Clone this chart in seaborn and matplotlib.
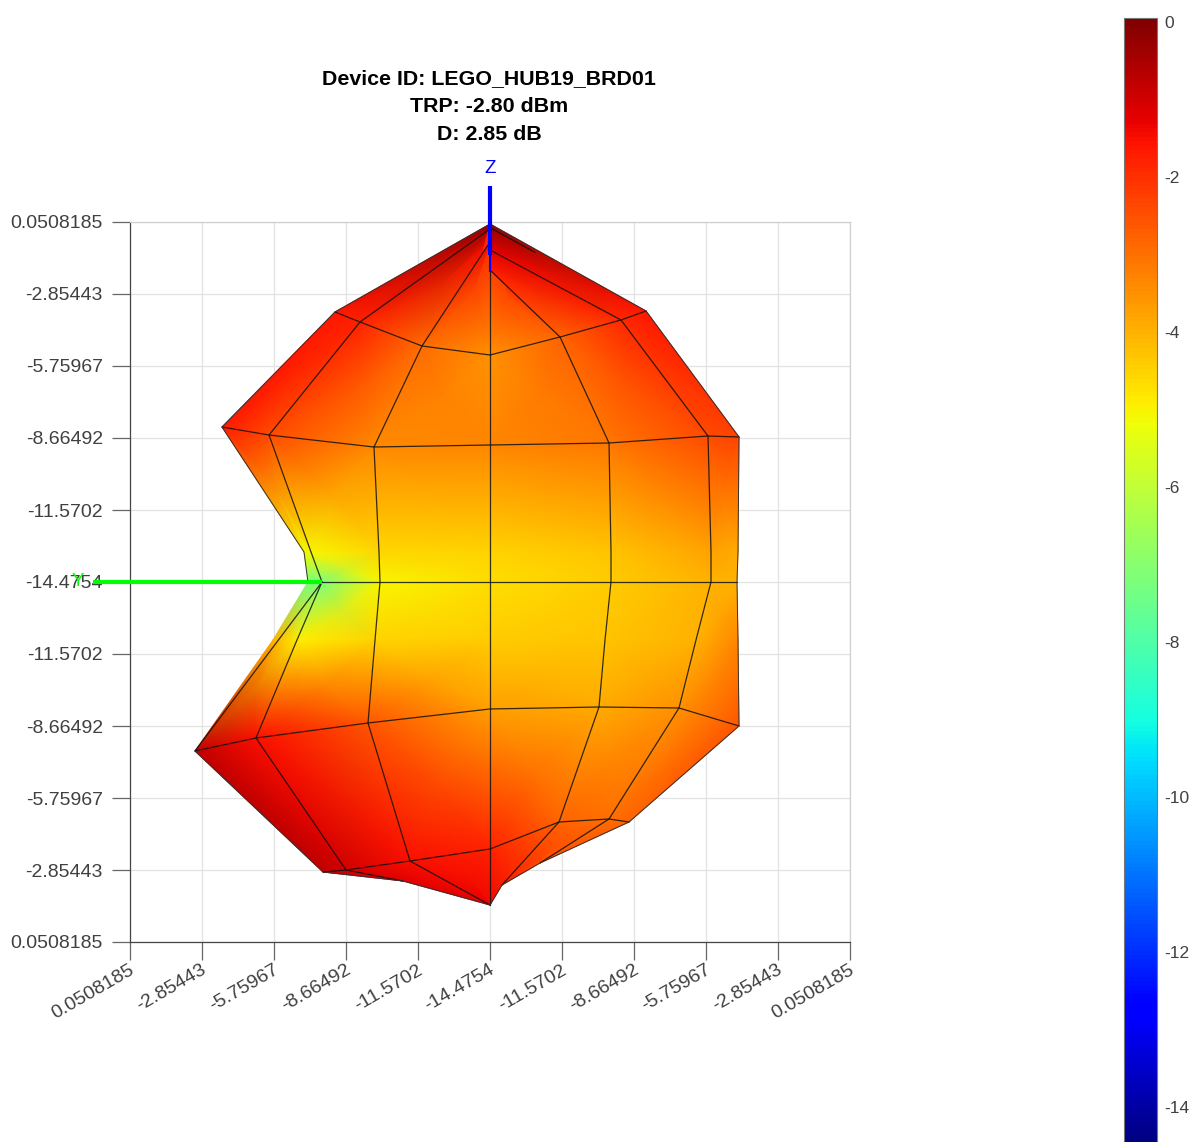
import numpy as np
import pandas as pd
import matplotlib
matplotlib.use("Agg")
import matplotlib.pyplot as plt
from matplotlib.transforms import ScaledTranslation
import seaborn as sns

# radiation pattern seen along X: rows go pole to pole, columns left to right
X_ROWS = [
    [0, 0, 0, 0, 0, 0, 0],
    [-6.254, -5.246, -2.744, 0, 2.825, 5.286, 6.295],
    [-10.814, -8.917, -4.681, 0, 4.802, 8.796, 10.047],
    [-7.505, -7.223, -4.479, 0, 4.882, 8.917, 10.007],
    [-7.344, -6.779, -4.439, 0, 4.882, 8.917, 9.966],
    [-8.756, -7.788, -4.640, 0, 4.640, 8.312, 10.007],
    [-11.903, -9.442, -4.923, 0, 4.398, 7.626, 10.047],
    [-6.738, -5.810, -3.228, 0, 2.784, 4.802, 5.609],
    [-3.510, -3.510, 0, 0, 0.484, 2.018, 5.609],
]
Z_ROWS = [
    [14.445, 14.244, 13.719, 14.445, 12.589, 13.396, 14.445],
    [10.895, 10.491, 9.523, 9.159, 9.886, 10.572, 10.935],
    [6.254, 5.931, 5.447, 5.528, 5.609, 5.891, 5.851],
    [1.211, 1.211, 1.211, 1.211, 1.211, 1.211, 1.211],
    [0, 0, 0, 0, 0, 0, 0],
    [-2.340, -2.340, -2.340, -2.340, -2.340, -2.340, -2.340],
    [-6.819, -6.295, -5.689, -5.124, -5.044, -5.084, -5.810],
    [-11.702, -11.621, -11.258, -10.773, -9.684, -9.563, -9.684],
    [-12.065, -12.065, -13.033, -13.033, -12.226, -11.338, -9.684],
]
GAIN_ROWS = [
    [-0.2, -0.5, -1.4, -1.6, -1.7, -1.2, -0.2],
    [-1.6, -1.8, -2.9, -3.5, -2.8, -1.9, -1.6],
    [-1.7, -2.4, -3.4, -3.3, -3.1, -2.4, -2.3],
    [-5.1, -5.0, -4.6, -4.5, -4.3, -3.8, -3.9],
    [-7.3, -7.2, -5.0, -4.7, -4.4, -4.0, -4.0],
    [-4.0, -4.9, -4.5, -4.4, -4.3, -4.0, -3.3],
    [-0.8, -1.5, -2.6, -3.7, -3.9, -3.5, -2.6],
    [-0.8, -1.0, -1.5, -1.8, -2.8, -3.0, -2.8],
    [-1.2, -1.2, -1.3, -1.4, -1.7, -2.5, -2.8],
]
# the rows 3 and 5 only carry shading, no mesh line was drawn there
MESH_ROWS = [1, 2, 4, 6, 7]

TICK_POS = [-14.526, -11.621, -8.716, -5.811, -2.905, 0, 2.905, 5.811, 8.716, 11.621, 14.526]
TICK_LABELS = ["0.0508185", "-2.85443", "-5.75967", "-8.66492", "-11.5702", "-14.4754",
               "-11.5702", "-8.66492", "-5.75967", "-2.85443", "0.0508185"]
CBAR_TICKS = [0, -2, -4, -6, -8, -10, -12, -14]
TITLE = "Device ID: LEGO_HUB19_BRD01\nTRP: -2.80 dBm\nD: 2.85 dB"
VMIN, VMAX = -14.4754, 0.0508

# short mesh pieces that do not follow the grid
EXTRA_X = [[-6.779, -11.903], [0.0, 1.816]]
EXTRA_Z = [[0, -6.819], [14.3, 13.3]]

sns.set_style("whitegrid")
plt.rcParams["font.family"] = ["Liberation Sans", "DejaVu Sans"]
plt.rcParams["axes.unicode_minus"] = False
TEXT_COLOR = "#404040"

X = np.array(X_ROWS)
Z = np.array(Z_ROWS)
G = np.array(GAIN_ROWS)
cmap = plt.get_cmap("jet")

W, H = 1195, 1142
fig = plt.figure(figsize=(W / 100, H / 100), dpi=100)
ax = fig.add_axes([130 / W, (H - 942) / H, 720 / W, 720 / H])

mesh = ax.pcolormesh(X, Z, G, shading="gouraud", cmap=cmap, vmin=VMIN, vmax=VMAX, zorder=2)

# mesh lines in long form
parts = []
line_id = 0
for r in MESH_ROWS:
    parts.append(pd.DataFrame({"x": X[r], "z": Z[r], "line": line_id}))
    line_id += 1
for c in range(1, X.shape[1] - 1):
    parts.append(pd.DataFrame({"x": X[:, c], "z": Z[:, c], "line": line_id}))
    line_id += 1
for ex, ez in zip(EXTRA_X, EXTRA_Z):
    parts.append(pd.DataFrame({"x": ex, "z": ez, "line": line_id}))
    line_id += 1
lines = pd.concat(parts, ignore_index=True)
sns.lineplot(data=lines, x="x", y="z", units="line", estimator=None, sort=False,
             color="#111111", linewidth=0.9, alpha=0.85, ax=ax, zorder=3)

# outline of the surface, left open along the lower left sliver
edge_a = pd.DataFrame({"x": X[:5, 0], "z": Z[:5, 0], "line": 0})
edge_b = pd.DataFrame({"x": np.concatenate([X[6:, 0], X[-1], X[::-1, -1]]),
                       "z": np.concatenate([Z[6:, 0], Z[-1], Z[::-1, -1]]), "line": 1})
edge = pd.concat([edge_a, edge_b], ignore_index=True)
sns.lineplot(data=edge, x="x", y="z", units="line", estimator=None, sort=False,
             color="#333333", linewidth=0.7, ax=ax, zorder=3)

# axis arrows of the antenna frame
ax.plot([0, 0], [15.98, 13.2], color="#0000ff", lw=3, zorder=5, clip_on=False, solid_capstyle="butt")
ax.plot([0, 0], [13.2, 12.5], color="#0000ff", lw=1.5, zorder=5, clip_on=False, solid_capstyle="butt")
ax.plot([-16.02, -6.78], [0, 0], color="#00ff00", lw=3, zorder=5, clip_on=False, solid_capstyle="butt")
ax.text(0, 16.7, "Z", color="#0000ff", fontsize=13.5, ha="center", va="center", clip_on=False, zorder=6)
ax.text(-16.65, 0, "Y", color="#00ff00", fontsize=13.5, ha="center", va="center", clip_on=False, zorder=6)

ax.set_xlim(-14.526, 14.526)
ax.set_ylim(-14.526, 14.526)
ax.set_xticks(TICK_POS)
ax.set_yticks(TICK_POS)
ax.set_xticklabels(TICK_LABELS, rotation=30, ha="right", rotation_mode="anchor", fontsize=14, color=TEXT_COLOR)
ax.set_yticklabels(TICK_LABELS, fontsize=14, color=TEXT_COLOR)
ax.set_xlabel("")
ax.set_ylabel("")
ax.grid(True, color="#e2e2e2", linewidth=0.9, zorder=1)
ax.set_axisbelow(True)
ax.tick_params(axis="both", direction="out", length=13, width=0.9, color="#666666",
               bottom=True, left=True)
ax.tick_params(axis="x", pad=1)
ax.tick_params(axis="y", pad=6.5)
shift = ScaledTranslation(-1 / 100, 0, fig.dpi_scale_trans)
for lab in ax.get_xticklabels():
    lab.set_transform(lab.get_transform() + shift)
for side in ["left", "bottom"]:
    ax.spines[side].set_color("#444444")
    ax.spines[side].set_linewidth(0.9)
for side in ["top", "right"]:
    ax.spines[side].set_color("#cfcfcf")
    ax.spines[side].set_linewidth(0.9)

fig.text(489 / W, 1 - 107 / H, TITLE, fontsize=15.4, fontweight="bold", color="black",
         ha="center", va="center", linespacing=1.6)

cax = fig.add_axes([1124 / W, -2 / H, 33 / W, 1126 / H])
cb = fig.colorbar(mesh, cax=cax, ticks=CBAR_TICKS)
cb.ax.tick_params(direction="in", length=9, width=0.8, color="#444444", labelsize=12.5,
                  labelcolor=TEXT_COLOR, pad=5, right=True)
cb.outline.set_edgecolor("#777777")
cb.outline.set_linewidth(0.8)
cb.ax.grid(False)

fig.savefig("out.png", dpi=100)
